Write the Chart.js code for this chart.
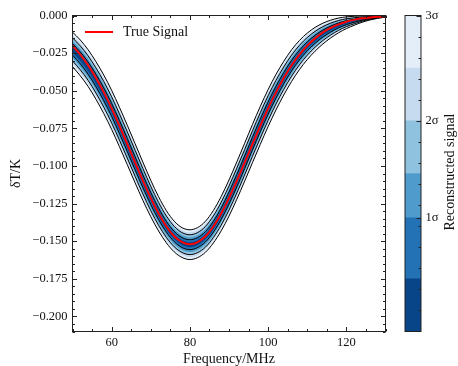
<!DOCTYPE html>
<html><head><meta charset="utf-8">
<script src="https://cdn.jsdelivr.net/npm/chart.js@4.4.0/dist/chart.umd.min.js"></script>
<style>
html,body{margin:0;padding:0;background:#fff;}
#wrap{position:relative;width:458px;height:366px;overflow:hidden;}
#main{position:absolute;left:0;top:0;}
#cbar{position:absolute;left:400px;top:0;}
</style></head><body>
<div id="wrap"><canvas id="main" width="458" height="366"></canvas><canvas id="cbar" width="58" height="366"></canvas></div>
<script>
// ---- data ----
const freq = [50,52,54,56,58,60,62,64,66,68,70,72,74,76,78,80,82,84,86,88,90,92,94,96,98,100,102,104,106,108,110,112,114,116,118,120,122,124,126,128,130];
const trueSignal = [-0.0200,-0.0260,-0.0331,-0.0416,-0.0511,-0.0617,-0.0733,-0.0854,-0.0978,-0.1099,-0.1214,-0.1316,-0.1402,-0.1467,-0.1506,-0.1520,-0.1506,-0.1467,-0.1402,-0.1316,-0.1214,-0.1099,-0.0978,-0.0854,-0.0733,-0.0617,-0.0511,-0.0416,-0.0331,-0.0260,-0.0200,-0.0152,-0.0112,-0.0082,-0.0059,-0.0041,-0.0029,-0.0019,-0.0013,-0.0008,-0.0005];
const reconMedian = [-0.0225,-0.0282,-0.0350,-0.0432,-0.0524,-0.0627,-0.0741,-0.0860,-0.0982,-0.1102,-0.1216,-0.1318,-0.1404,-0.1469,-0.1509,-0.1523,-0.1509,-0.1470,-0.1404,-0.1317,-0.1213,-0.1097,-0.0975,-0.0851,-0.0730,-0.0615,-0.0510,-0.0416,-0.0333,-0.0263,-0.0205,-0.0158,-0.0120,-0.0090,-0.0066,-0.0048,-0.0035,-0.0024,-0.0016,-0.0010,-0.0006];
const reconHalfWidth3 = [0.0115,0.0119,0.0122,0.0125,0.0128,0.0130,0.0131,0.0131,0.0130,0.0127,0.0121,0.0114,0.0107,0.0102,0.0099,0.0099,0.0100,0.0103,0.0108,0.0114,0.0120,0.0124,0.0126,0.0127,0.0126,0.0123,0.0118,0.0112,0.0105,0.0097,0.0088,0.0079,0.0069,0.0059,0.0049,0.0039,0.0030,0.0021,0.0014,0.0009,0.0005];
const bandLevels = [0.5, 1, 1.5, 2, 2.5, 3];      // sigma levels of the filled contours
const contourLevels = [1, 2, 3];                  // sigma levels with black contour lines
const xTickValues = [60, 80, 100, 120];
const yTickValues = [0, -0.025, -0.05, -0.075, -0.1, -0.125, -0.15, -0.175, -0.2];
const cbarEdges = [0, 0.5, 1.08, 1.5, 2, 2.5, 3];
const cbarTickValues = [1.08, 2, 3];
const cbarTickLabels = ['1σ', '2σ', '3σ'];
const seriesLabel = 'True Signal';

// ---- styles ----
const bandColors = ['#084488', '#2272b5', '#4f9bcb', '#8fc2de', '#c6dbef', '#e4eef9']; // inner -> outer
const FONT = '"Liberation Serif", "Times New Roman", serif';
const INK = '#111';

// ---- datasets ----
const datasets = [{
  label: seriesLabel,
  data: freq.map((f, i) => ({x: f, y: trueSignal[i]})),
  borderColor: '#ff0000', borderWidth: 2, pointRadius: 0, fill: false,
  cubicInterpolationMode: 'monotone'
}];
bandLevels.forEach((lvl, k) => {
  const isContour = contourLevels.includes(lvl);
  const lineColor = isContour ? '#000' : 'rgba(0,0,0,0)';
  datasets.push({
    label: 'upper ' + lvl,
    data: freq.map((f, i) => ({x: f, y: reconMedian[i] + reconHalfWidth3[i] * lvl / 3})),
    borderColor: lineColor, borderWidth: 1, pointRadius: 0, fill: false,
    cubicInterpolationMode: 'monotone'
  });
  datasets.push({
    label: 'lower ' + lvl,
    data: freq.map((f, i) => ({x: f, y: reconMedian[i] - reconHalfWidth3[i] * lvl / 3})),
    borderColor: lineColor, borderWidth: 1, pointRadius: 0, fill: '-1',
    backgroundColor: bandColors[k],
    cubicInterpolationMode: 'monotone'
  });
});

function fmtY(v) {
  if (Math.abs(v) < 1e-12) return '0.000';
  const s = Math.abs(v).toFixed(3);
  return (v < 0 ? '\u2212' : '') + s;
}

const framePlugin = {
  id: 'frame',
  afterDraw(chart) {
    const ctx = chart.ctx, a = chart.chartArea;
    const xs = chart.scales.x, ys = chart.scales.y;
    ctx.save();
    ctx.strokeStyle = '#222';
    ctx.lineWidth = 1;
    ctx.beginPath();
    const maj = 4.5, min = 2.5;
    const xStep = 5, yStep = 0.005;
    for (let k = Math.ceil(xs.min / xStep); k <= Math.floor(xs.max / xStep); k++) {
      const v = k * xStep;
      const px = Math.round(xs.getPixelForValue(v)) + 0.5;
      const L = xTickValues.some(t => Math.abs(t - v) < 1e-9) ? maj : min;
      ctx.moveTo(px, a.bottom); ctx.lineTo(px, a.bottom - L);
      ctx.moveTo(px, a.top); ctx.lineTo(px, a.top + L);
    }
    for (let k = Math.ceil(ys.min / yStep - 1e-9); k <= Math.floor(ys.max / yStep + 1e-9); k++) {
      const v = k * yStep;
      const py = Math.round(ys.getPixelForValue(v)) + 0.5;
      const L = yTickValues.some(t => Math.abs(t - v) < 1e-9) ? maj : min;
      ctx.moveTo(a.left, py); ctx.lineTo(a.left + L, py);
      ctx.moveTo(a.right, py); ctx.lineTo(a.right - L, py);
    }
    ctx.stroke();
    ctx.strokeRect(a.left, a.top, a.right - a.left, a.bottom - a.top);
    // legend inside the axes
    const ds = chart.data.datasets[0];
    const ly = a.top + 16.5;
    ctx.strokeStyle = ds.borderColor;
    ctx.lineWidth = 2;
    ctx.beginPath();
    ctx.moveTo(a.left + 12.5, ly); ctx.lineTo(a.left + 40.5, ly);
    ctx.stroke();
    ctx.fillStyle = INK;
    ctx.font = '14px ' + FONT;
    ctx.textBaseline = 'middle';
    ctx.textAlign = 'left';
    ctx.fillText(ds.label, a.left + 50.5, ly);
    ctx.restore();
  }
};

new Chart(document.getElementById('main'), {
  type: 'line',
  data: {datasets},
  options: {
    responsive: false, animation: false, devicePixelRatio: 1,
    layout: {padding: {left: 0, right: 72.5, top: 15.5, bottom: 0}},
    plugins: {legend: {display: false}, tooltip: {enabled: false}, filler: {drawTime: 'beforeDatasetsDraw'}},
    scales: {
      x: {
        type: 'linear', min: 50, max: 130,
        grid: {display: false, drawTicks: false},
        border: {display: false},
        afterBuildTicks: s => { s.ticks = xTickValues.map(v => ({value: v})); },
        afterFit: s => { s.height = 34.5; },
        ticks: {color: INK, padding: 4, font: {family: FONT, size: 12.5}, maxRotation: 0, callback: v => String(v)},
        title: {display: true, text: 'Frequency/MHz', color: INK, font: {family: FONT, size: 14, lineHeight: 1}, padding: {top: 0, bottom: 0}}
      },
      y: {
        type: 'linear', min: -0.21, max: 0,
        grid: {display: false, drawTicks: false},
        border: {display: false},
        afterBuildTicks: s => { s.ticks = yTickValues.map(v => ({value: v})); },
        afterFit: s => { s.width = 72.5; },
        ticks: {color: INK, padding: 5, font: {family: FONT, size: 12.5}, callback: v => fmtY(v)},
        title: {display: true, text: 'δT/K', color: INK, font: {family: FONT, size: 14, lineHeight: 1}, padding: {top: 9, bottom: 0}}
      }
    }
  },
  plugins: [framePlugin]
});

// ---- colorbar ----
const cbarPlugin = {
  id: 'cbarFrame',
  afterDraw(chart) {
    const ctx = chart.ctx, a = chart.chartArea, ys = chart.scales.y;
    ctx.save();
    ctx.strokeStyle = '#222';
    ctx.lineWidth = 1;
    ctx.beginPath();
    const step = 0.2;
    for (let k = 1; k < Math.round(ys.max / step); k++) {
      const py = Math.round(ys.getPixelForValue(k * step)) + 0.5;
      ctx.moveTo(a.right, py); ctx.lineTo(a.right - 2.5, py);
    }
    cbarTickValues.forEach(v => {
      const py = Math.round(ys.getPixelForValue(v)) + 0.5;
      ctx.moveTo(a.right, py); ctx.lineTo(a.right - 4.5, py);
    });
    ctx.stroke();
    ctx.strokeRect(a.left, a.top, a.right - a.left, a.bottom - a.top);
    ctx.fillStyle = INK;
    ctx.font = '14px ' + FONT;
    ctx.textAlign = 'center';
    ctx.textBaseline = 'middle';
    ctx.translate(50, (a.top + a.bottom) / 2 - 1.5);
    ctx.rotate(-Math.PI / 2);
    ctx.fillText('Reconstructed signal', 0, 0);
    ctx.restore();
  }
};

new Chart(document.getElementById('cbar'), {
  type: 'bar',
  data: {
    labels: ['cb'],
    datasets: bandColors.map((c, i) => ({
      label: 'band ' + i,
      data: [[cbarEdges[i], cbarEdges[i + 1]]],
      backgroundColor: c, borderWidth: 0,
      barPercentage: 1, categoryPercentage: 1, grouped: false
    }))
  },
  options: {
    responsive: false, animation: false, devicePixelRatio: 1,
    layout: {padding: {left: 5, right: 0, top: 15.5, bottom: 34.5}},
    plugins: {legend: {display: false}, tooltip: {enabled: false}},
    scales: {
      x: {display: false},
      y: {
        position: 'right', min: 0, max: 3,
        grid: {display: false, drawTicks: false},
        border: {display: false},
        afterBuildTicks: s => { s.ticks = cbarTickValues.map(v => ({value: v})); },
        afterFit: s => { s.width = 37; },
        ticks: {color: INK, padding: 4.5, font: {family: FONT, size: 12.5},
          callback: (v) => { const i = cbarTickValues.findIndex(t => Math.abs(t - v) < 1e-9); return i >= 0 ? cbarTickLabels[i] : ''; }}
      }
    }
  },
  plugins: [cbarPlugin]
});
</script>
</body></html>
